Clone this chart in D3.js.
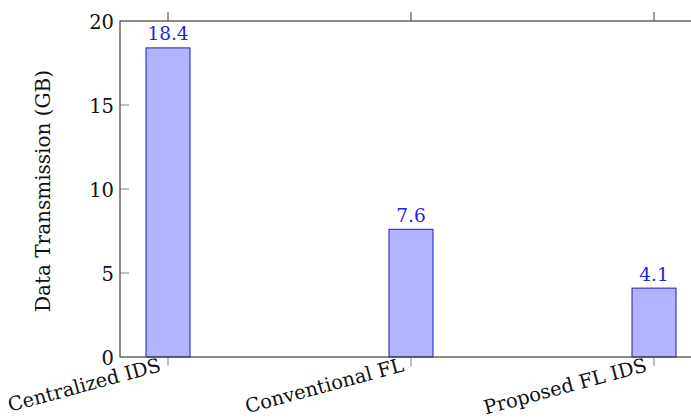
<!DOCTYPE html>
<html>
<head>
<meta charset="utf-8">
<script src="https://cdn.jsdelivr.net/npm/d3@7"></script>
</head>
<body style="margin:0">
<svg id="chart" width="691" height="420"></svg>
<script>
// Data transmitted per approach
const categories = ["Centralized IDS", "Conventional FL", "Proposed FL IDS"];
const values = [18.4, 7.6, 4.1];
const yTicks = [0, 5, 10, 15, 20];
const yLabel = "Data Transmission (GB)";

const serif = t => t.style("font-family", '"DejaVu Serif"');

const svg = d3.select("#chart");
const margin = { left: 120, top: 21, bottom: 63 };
const plotW = 582;               // plot frame runs past the right edge of the page
const plotH = 420 - margin.top - margin.bottom;

// Y axis title
svg.append("text")
  .attr("transform", `translate(50,${margin.top + plotH / 2 + 2}) rotate(-90)`)
  .attr("text-anchor", "middle")
  .attr("font-size", 20)
  .attr("fill", "#111")
  .call(serif)
  .text(yLabel);

const g = svg.append("g").attr("transform", `translate(${margin.left},${margin.top})`);

// Category centres sit 48px in from each side, 243px apart
const x = d3.scalePoint().domain(categories).range([48, plotW - 48]);
const y = d3.scaleLinear().domain([0, 20]).range([plotH, 0]);
const barW = 44;

const axisColor = "#404040";
const tickColor = "#808080";

// Bars
g.selectAll("rect.bar").data(values).join("rect")
  .attr("class", "bar")
  .attr("x", (d, i) => x(categories[i]) - barW / 2)
  .attr("y", d => y(d))
  .attr("width", barW)
  .attr("height", d => y(0) - y(d))
  .attr("fill", "#b3b3ff")
  .attr("stroke", "#1a1acc")
  .attr("stroke-width", 1);

// Value labels
g.selectAll("text.val").data(values).join("text")
  .attr("class", "val")
  .attr("x", (d, i) => x(categories[i]))
  .attr("y", d => y(d) - 7.5)
  .attr("text-anchor", "middle")
  .attr("font-size", 18.5)
  .attr("fill", "#2323e0")
  .call(serif)
  .text(d => d.toFixed(1));

// Left axis labels, ticks drawn inward
const yAxis = d3.axisLeft(y).tickValues(yTicks).tickSize(0).tickPadding(6).tickFormat(d3.format("d"));
const ya = g.append("g").call(yAxis);
ya.attr("font-family", null).attr("font-size", null);
ya.select(".domain").remove();
ya.selectAll("text")
  .attr("font-size", 19.5)
  .attr("fill", "#111")
  .attr("dy", "0.36em")
  .call(serif);
g.selectAll("line.ytick").data(yTicks.filter(t => t > 0 && t < 20)).join("line")
  .attr("class", "ytick")
  .attr("x1", 0).attr("x2", 9)
  .attr("y1", d => y(d)).attr("y2", d => y(d))
  .attr("stroke", tickColor).attr("stroke-width", 1);

// Bottom axis: outward ticks, rotated labels
g.selectAll("line.xtick").data(categories).join("line")
  .attr("class", "xtick")
  .attr("x1", d => x(d)).attr("x2", d => x(d))
  .attr("y1", plotH).attr("y2", plotH + 9)
  .attr("stroke", tickColor).attr("stroke-width", 1);
g.selectAll("text.xlab").data(categories).join("text")
  .attr("class", "xlab")
  .attr("transform", d => `translate(${x(d) - 6},${plotH + 14}) rotate(-15)`)
  .attr("text-anchor", "end")
  .attr("font-size", 19.5)
  .attr("fill", "#111")
  .call(serif)
  .text(d => d);

// Top axis ticks pointing up
g.selectAll("line.ttick").data(categories).join("line")
  .attr("class", "ttick")
  .attr("x1", d => x(d)).attr("x2", d => x(d))
  .attr("y1", 0).attr("y2", -9)
  .attr("stroke", axisColor).attr("stroke-width", 1);

// Frame
g.append("rect")
  .attr("x", 0).attr("y", 0).attr("width", plotW).attr("height", plotH)
  .attr("fill", "none").attr("stroke", axisColor).attr("stroke-width", 1.2);
</script>
</body>
</html>
